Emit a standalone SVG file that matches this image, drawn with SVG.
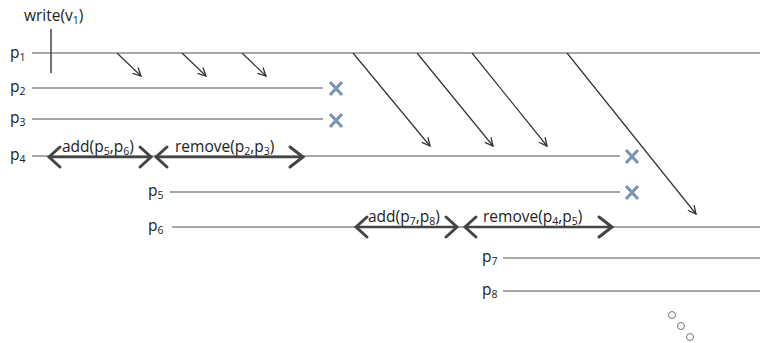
<svg xmlns="http://www.w3.org/2000/svg" width="760" height="343" viewBox="0 0 760 343">
<defs>
<style>
.t{font-family:"Open Sans","Liberation Sans",sans-serif;font-size:15.5px;fill:#222}
.s{font-size:10.5px}
.pl{stroke:#8a8a8a;stroke-width:1.5;fill:none}
.msg{stroke:#333;stroke-width:1.2;fill:none}
.op{stroke:#444;stroke-width:2.5;fill:none}
.head{stroke:#444;stroke-width:3;fill:none;stroke-linecap:round;stroke-linejoin:miter}
.x{stroke:#7b95b3;stroke-width:3.2;stroke-linecap:butt}
.c{fill:none;stroke:#777;stroke-width:1}
</style>
<marker id="ah" viewBox="0 0 10 10" refX="9" refY="5" markerWidth="10" markerHeight="10" markerUnits="userSpaceOnUse" orient="auto">
<path d="M1,1 L9,5 L1,9" fill="none" stroke="#333" stroke-width="1.3"/>
</marker>
</defs>

<g id="p1">
<text class="t" x="10" y="58">p<tspan class="s" dy="3">1</tspan></text>
<line class="pl" x1="32" y1="53" x2="760" y2="53"/>
<line x1="51" y1="29" x2="51" y2="73" stroke="#444" stroke-width="1.5"/>
<text class="t" x="24" y="21">write(v<tspan class="s" dy="3">1</tspan><tspan dy="-3">)</tspan></text>
</g>
<g id="p2">
<text class="t" x="10" y="92">p<tspan class="s" dy="3">2</tspan></text>
<line class="pl" x1="32" y1="88" x2="323" y2="88"/>
<path class="x" d="M330,82 L342,95 M342,82 L330,95"/>
</g>
<g id="p3">
<text class="t" x="10" y="123">p<tspan class="s" dy="3">3</tspan></text>
<line class="pl" x1="32" y1="119" x2="323" y2="119"/>
<path class="x" d="M330,114 L342,127 M342,114 L330,127"/>
</g>
<g id="p4">
<text class="t" x="10" y="160">p<tspan class="s" dy="3">4</tspan></text>
<line class="pl" x1="32" y1="156" x2="620" y2="156"/>
<path class="x" d="M626,150 L638,163 M638,150 L626,163"/>
</g>
<g id="p5">
<text class="t" x="148" y="196">p<tspan class="s" dy="3">5</tspan></text>
<line class="pl" x1="170" y1="192" x2="620" y2="192"/>
<path class="x" d="M626,186 L638,199 M638,186 L626,199"/>
</g>
<g id="p6">
<text class="t" x="148" y="231">p<tspan class="s" dy="3">6</tspan></text>
<line class="pl" x1="172" y1="227" x2="760" y2="227"/>
</g>
<g id="p7">
<text class="t" x="482" y="262">p<tspan class="s" dy="3">7</tspan></text>
<line class="pl" x1="503" y1="258" x2="760" y2="258"/>
</g>
<g id="p8">
<text class="t" x="482" y="295">p<tspan class="s" dy="3">8</tspan></text>
<line class="pl" x1="503" y1="291" x2="760" y2="291"/>
</g>

<g id="op-add-p4">
<line class="op" x1="49" y1="157" x2="151" y2="157"/>
<path class="head" d="M60,147 L49,157 L60,167"/>
<path class="head" d="M140,147 L151,157 L140,167"/>
<text class="t" x="62" y="152">add(p<tspan class="s" dy="3">5</tspan><tspan dy="-3">,p</tspan><tspan class="s" dy="3">6</tspan><tspan dy="-3">)</tspan></text>
</g>
<g id="op-remove-p4">
<line class="op" x1="156" y1="157" x2="303" y2="157"/>
<path class="head" d="M167,147 L156,157 L167,167"/>
<path class="head" d="M290,147 L303,157 L290,167"/>
<text class="t" x="175" y="152">remove(p<tspan class="s" dy="3">2</tspan><tspan dy="-3">,p</tspan><tspan class="s" dy="3">3</tspan><tspan dy="-3">)</tspan></text>
</g>
<g id="op-add-p6">
<line class="op" x1="356" y1="227" x2="457" y2="227"/>
<path class="head" d="M367,217 L356,227 L367,237"/>
<path class="head" d="M446,217 L457,227 L446,237"/>
<text class="t" x="368" y="222">add(p<tspan class="s" dy="3">7</tspan><tspan dy="-3">,p</tspan><tspan class="s" dy="3">8</tspan><tspan dy="-3">)</tspan></text>
</g>
<g id="op-remove-p6">
<line class="op" x1="465" y1="227" x2="612" y2="227"/>
<path class="head" d="M476,217 L465,227 L476,237"/>
<path class="head" d="M599,217 L612,227 L599,237"/>
<text class="t" x="483" y="222">remove(p<tspan class="s" dy="3">4</tspan><tspan dy="-3">,p</tspan><tspan class="s" dy="3">5</tspan><tspan dy="-3">)</tspan></text>
</g>

<g id="connectors">
<line class="msg" x1="117" y1="53" x2="141" y2="76" marker-end="url(#ah)"/>
<line class="msg" x1="182" y1="53" x2="206" y2="76" marker-end="url(#ah)"/>
<line class="msg" x1="242" y1="53" x2="266" y2="76" marker-end="url(#ah)"/>
<line class="msg" x1="353" y1="53" x2="430" y2="146" marker-end="url(#ah)"/>
<line class="msg" x1="417" y1="53" x2="493" y2="146" marker-end="url(#ah)"/>
<line class="msg" x1="472" y1="53" x2="547" y2="146" marker-end="url(#ah)"/>
<line class="msg" x1="567" y1="53" x2="696" y2="214" marker-end="url(#ah)"/>
</g>

<g id="ellipsis">
<circle class="c" cx="672" cy="315" r="3.5"/>
<circle class="c" cx="681" cy="326" r="3.5"/>
<circle class="c" cx="690" cy="337" r="3.5"/>
</g>
</svg>
